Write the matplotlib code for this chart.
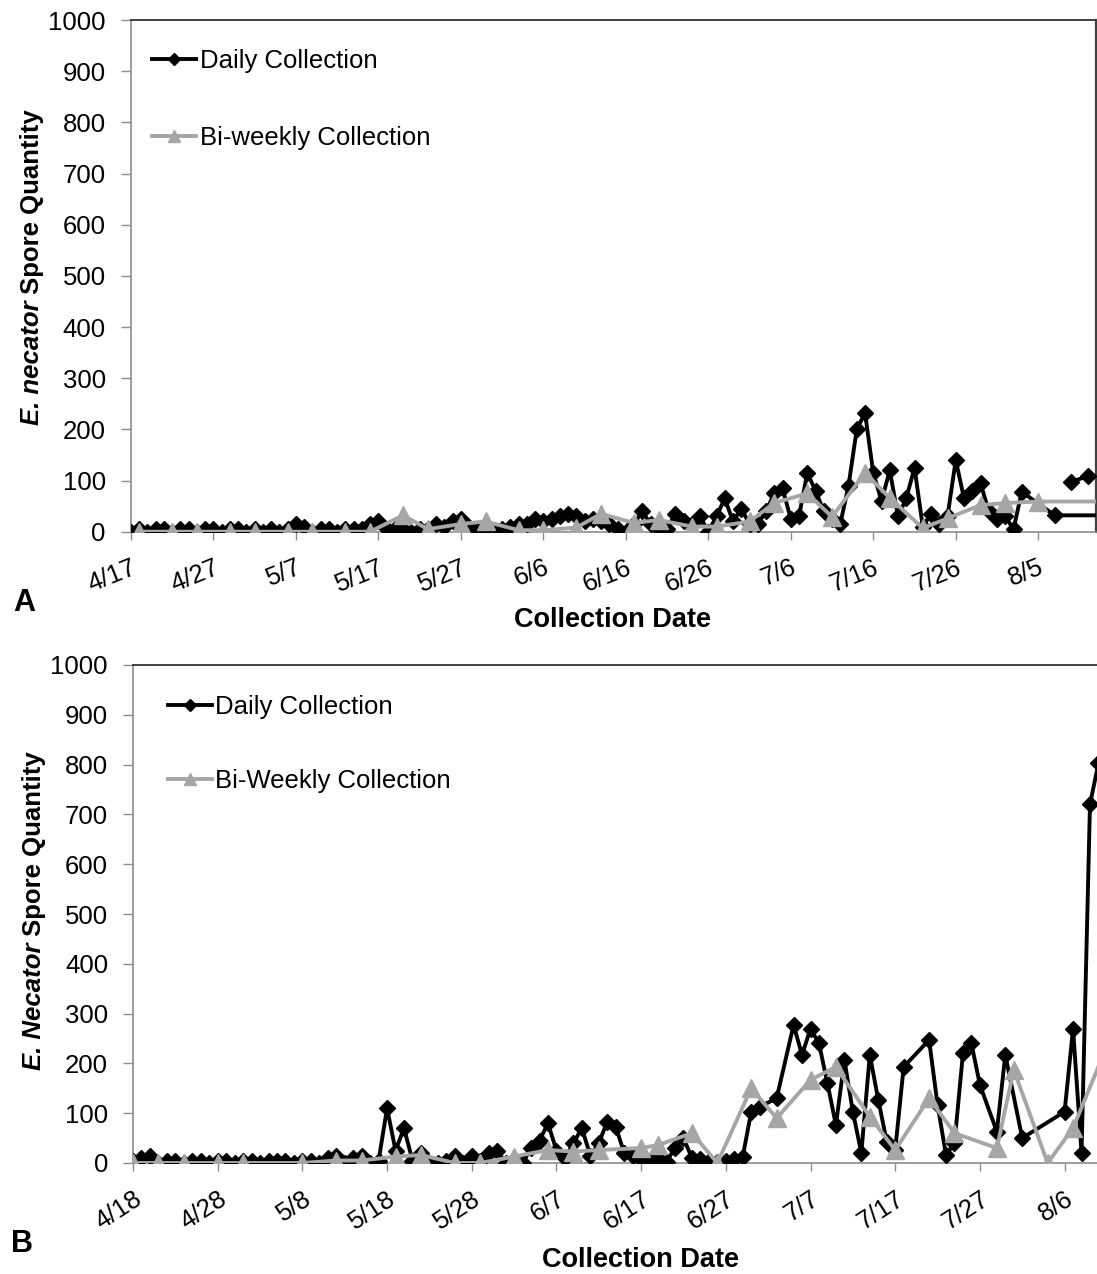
import matplotlib
matplotlib.use('Agg')
import matplotlib.pyplot as plt
from matplotlib.lines import Line2D
import numpy as np
import pandas as pd

plt.rcParams['font.family'] = ['Liberation Sans', 'DejaVu Sans']

# ---------------- data (day offsets from first tick date) ----------------
A_start = '2013-04-17'
A_daily_day = list(range(0, 109)) + [112, 121]
A_daily_val = [0, 5, 0, 5, 5, 0, 5, 5, 0, 5, 5, 0, 5, 5, 0, 5, 0, 5, 0, 5,
               15, 10, 0, 5, 5, 0, 5, 5, 5, 15, 20, 5, 5, 5, 0, 5, 5, 15, 10, 20,
               25, 10, 5, 0, 0, 5, 10, 15, 15, 25, 20, 25, 30, 35, 30, 20, 25, 20, 15, 5,
               0, 15, 40, 15, 5, 5, 35, 20, 15, 30, 0, 30, 65, 20, 45, 15, 15, 40, 75, 85,
               25, 30, 115, 80, 40, 25, 15, 90, 200, 232, 115, 60, 120, 30, 65, 125, 10, 35, 15, 30,
               140, 65, 80, 95, 40, 25, 30, 5, 78, 32, 32]
A_daily_late_day = [114, 116, 119]
A_daily_late_val = [98, 108, 110]
A_bi_day = [1, 5, 8, 12, 15, 19, 22, 26, 29, 33, 36, 40, 43, 47, 50, 54, 57, 61, 64, 68,
            71, 75, 78, 82, 85, 89, 92, 96, 99, 103, 106, 110, 121]
A_bi_val = [0, 0, 0, 0, 0, 0, 0, 0, 0, 32, 5, 15, 20, 3, 3, 8, 35, 17, 23, 10,
            10, 20, 56, 75, 29, 115, 66, 7, 26, 52, 56, 59, 59]
A_ticklabels = ['4/17', '4/27', '5/7', '5/17', '5/27', '6/6', '6/16', '6/26',
                '7/6', '7/16', '7/26', '8/5']

B_start = '2013-04-18'
B_daily_day = list(range(0, 75)) + [76] + list(range(78, 92)) + list(range(94, 101)) + \
              [102, 103, 105, 110, 111, 112, 113, 114]
B_daily_val = [5, 10, 15, 0, 5, 5, 0, 5, 5, 0, 5, 5, 0, 5, 5, 0, 5, 5, 5, 0,
               5, 5, 0, 10, 15, 0, 10, 15, 0, 5, 110, 25, 70, 5, 20, 0, 0, 5, 15, 0,
               15, 5, 20, 25, 0, 5, 0, 30, 45, 80, 25, 10, 40, 70, 15, 40, 83, 73, 20, 15,
               8, 5, 10, 3, 30, 50, 10, 8, 5, 3, 5, 8, 13, 103, 113,
               130,
               277, 217, 270, 240, 160, 76, 207, 103, 20, 217, 127, 43, 26, 193,
               247, 117, 16, 40, 220, 240, 157,
               63, 217, 50, 103, 270, 20, 720, 803]
B_bi_day = [0, 3, 6, 10, 13, 20, 24, 27, 31, 34, 38, 41, 45, 49, 52, 55, 60, 62, 66, 69,
            73, 76, 80, 83, 87, 90, 94, 97, 102, 104, 108, 111, 115]
B_bi_val = [0, 0, 0, 0, 0, 0, 5, 5, 13, 16, 0, 0, 13, 26, 23, 26, 30, 36, 60, 0,
            150, 90, 167, 193, 93, 26, 130, 60, 30, 187, 0, 70, 235]
B_ticklabels = ['4/18', '4/28', '5/8', '5/18', '5/28', '6/7', '6/17', '6/27',
                '7/7', '7/17', '7/27', '8/6']

y_ticks = list(range(0, 1001, 100))


def to_dates(start, days):
    return pd.Timestamp(start) + pd.to_timedelta(np.array(days), unit='D')


W, H = 1097, 1274
fig = plt.figure(figsize=(W / 100, H / 100), dpi=100)

BLACK = '#000000'
GRAY = '#a6a6a6'
DARK_SPINE = '#404040'
LIGHT_SPINE = '#8c8c8c'
FS = 18.5


def px_axes(l, t, r, b):
    return fig.add_axes([l / W, 1 - b / H, (r - l) / W, (b - t) / H])


def style_axes(ax, start, xmax_days, labels, rot, right_spine):
    ax.set_ylim(0, 1000)
    ax.set_yticks(y_ticks)
    ax.set_yticklabels([str(v) for v in y_ticks])
    s = pd.Timestamp(start)
    ax.set_xlim(s, s + pd.Timedelta(days=xmax_days))
    ticks = [s + pd.Timedelta(days=10 * i) for i in range(len(labels))]
    ax.set_xticks(ticks)
    ax.set_xticklabels(labels)
    for lab in ax.get_xticklabels():
        lab.set_rotation(rot)
        lab.set_ha('right')
        lab.set_va('top')
        lab.set_rotation_mode('anchor')
    ax.tick_params(axis='y', direction='out', length=7, width=1, color=LIGHT_SPINE,
                   pad=11, labelsize=FS)
    ax.tick_params(axis='x', direction='out', length=6, width=1, color=LIGHT_SPINE,
                   pad=11, labelsize=FS)
    ax.spines['top'].set_color(DARK_SPINE)
    ax.spines['top'].set_linewidth(1.4)
    ax.spines['left'].set_color(LIGHT_SPINE)
    ax.spines['left'].set_linewidth(1.2)
    ax.spines['bottom'].set_color(LIGHT_SPINE)
    ax.spines['bottom'].set_linewidth(1.2)
    if right_spine:
        ax.spines['right'].set_color(DARK_SPINE)
        ax.spines['right'].set_linewidth(1.6)
    else:
        ax.spines['right'].set_visible(False)


def draw_series(ax, x, y, kind):
    if kind == 'daily':
        ax.plot(x, y, color=BLACK, lw=2.8, marker='D', ms=8.5, mec=BLACK, mfc=BLACK,
                zorder=3, clip_on=True)
    else:
        ax.plot(x, y, color=GRAY, lw=2.8, marker='^', ms=13, mec=GRAY, mfc=GRAY,
                zorder=4, clip_on=True)


def legend(ax, anchor, lab1, lab2, spacing):
    h1 = Line2D([], [], color=BLACK, lw=2.8, marker='D', ms=6.5)
    h2 = Line2D([], [], color=GRAY, lw=2.8, marker='^', ms=9)
    ax.legend([h1, h2], [lab1, lab2], loc='upper left', bbox_to_anchor=anchor,
              frameon=False, fontsize=FS, handlelength=1.7, handletextpad=0.15,
              labelspacing=spacing, borderaxespad=0, borderpad=0)


def ylabel(xc, ysplit, italic_part, rest):
    fig.text(xc / W, 1 - ysplit / H, italic_part, rotation=90, rotation_mode='anchor',
             ha='right', va='center', fontsize=FS, fontweight='bold', fontstyle='italic')
    fig.text(xc / W, 1 - (ysplit - 6) / H, rest, rotation=90, rotation_mode='anchor',
             ha='left', va='center', fontsize=FS, fontweight='bold')


# ---------------- Panel A ----------------
axA = px_axes(130.8, 20, 1096, 531.7)
style_axes(axA, A_start, 117, A_ticklabels, 22, True)
draw_series(axA, to_dates(A_start, A_daily_day), A_daily_val, 'daily')
draw_series(axA, to_dates(A_start, A_daily_late_day), A_daily_late_val, 'daily')
draw_series(axA, to_dates(A_start, A_bi_day), A_bi_val, 'bi')
legend(axA, (0.022, 0.943), 'Daily Collection', 'Bi-weekly Collection', 2.05)

# ---------------- Panel B ----------------
axB = px_axes(133, 665, 1101, 1163)
style_axes(axB, B_start, 114.3, B_ticklabels, 33, False)
draw_series(axB, to_dates(B_start, B_daily_day), B_daily_val, 'daily')
draw_series(axB, to_dates(B_start, B_bi_day), B_bi_val, 'bi')
legend(axB, (0.036, 0.940), 'Daily Collection', 'Bi-Weekly Collection', 1.95)

# ---------------- texts ----------------
ylabel(32, 300, 'E. necator', 'Spore Quantity')
ylabel(34, 942, 'E. Necator', 'Spore Quantity')
fig.text(612 / W, 1 - 620 / H, 'Collection Date', ha='center', va='center',
         fontsize=19.5, fontweight='bold')
fig.text(641 / W, 1 - 1260 / H, 'Collection Date', ha='center', va='center',
         fontsize=19.5, fontweight='bold')
fig.text(24 / W, 1 - 603 / H, 'A', ha='center', va='center', fontsize=22, fontweight='bold')
fig.text(22 / W, 1 - 1244 / H, 'B', ha='center', va='center', fontsize=22, fontweight='bold')

fig.savefig('out.png', dpi=100)
